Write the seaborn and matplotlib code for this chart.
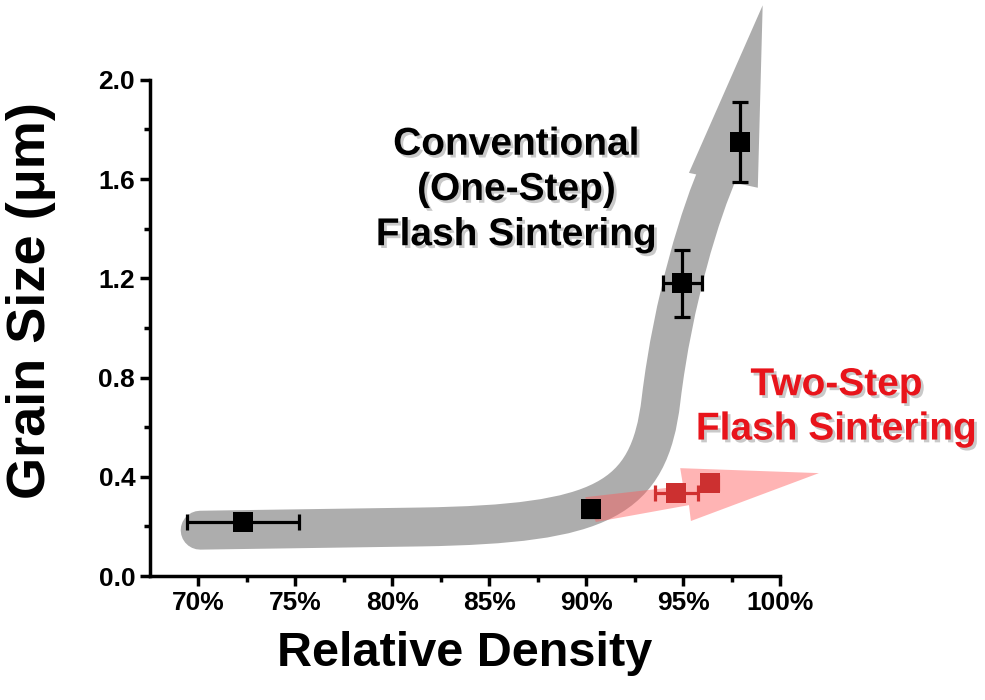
import numpy as np
import pandas as pd
import seaborn as sns
import matplotlib.pyplot as plt
import matplotlib.patheffects as pe
from matplotlib.patches import Polygon, PathPatch
from matplotlib.path import Path

# Conventional (one-step) flash sintering
conv_density = [72.3, 90.25, 94.95, 97.95]
conv_grain = [0.218, 0.27, 1.18, 1.75]
conv_xerr = [2.9, 0.3, 1.0, 0.2]
conv_yerr = [0.02, 0.03, 0.135, 0.16]

# Two-step flash sintering
two_density = [94.65, 96.4]
two_grain = [0.335, 0.375]
two_xerr = [1.1, 0.4]
two_yerr = [0.03, 0.02]

x_ticks = [70, 75, 80, 85, 90, 95, 100]
y_ticks = [0.0, 0.4, 0.8, 1.2, 1.6, 2.0]

sns.set_style("ticks")
plt.rcParams['font.family'] = ['Liberation Sans', 'DejaVu Sans']
plt.rcParams['font.weight'] = 'bold'

df = pd.DataFrame({
    "density": conv_density + two_density,
    "grain": conv_grain + two_grain,
    "method": ["conv"] * len(conv_density) + ["two"] * len(two_density),
})

fig = plt.figure(figsize=(9.85, 7.0), dpi=100)
ax = fig.add_axes([0.152, 0.177, 0.640, 0.709])

# big gray guide arrow (decoration only)
band = Path(
    [(70.1, 0.185), (81.5, 0.198),
     (90.8, 0.21), (93.25, 0.306), (93.86, 0.71),
     (94.48, 1.113), (95.93, 1.476), (96.86, 1.637)],
    [Path.MOVETO, Path.LINETO,
     Path.CURVE4, Path.CURVE4, Path.CURVE4,
     Path.CURVE4, Path.CURVE4, Path.CURVE4])
ax.add_patch(PathPatch(band, fill=False, ec="#adadad", lw=28, capstyle="round",
                       joinstyle="round", zorder=1, clip_on=False))
ax.add_patch(Polygon([[95.3, 1.625], [99.1, 2.30], [98.85, 1.565]],
                     closed=True, fc="#adadad", ec="none", zorder=1, clip_on=False))

# red guide arrow (decoration only)
ax.add_patch(Polygon([[89.95, 0.318], [95.0, 0.363], [94.85, 0.435], [102.0, 0.415],
                      [95.4, 0.222], [95.3, 0.286], [90.5, 0.218]],
                     closed=True, fc="#ff5a5a", alpha=0.45, ec="none", zorder=2,
                     clip_on=False))

ax.errorbar(conv_density, conv_grain, xerr=conv_xerr, yerr=conv_yerr, fmt="none",
            ecolor="black", elinewidth=2.3, capsize=6, capthick=2.3, zorder=3)
ax.errorbar(two_density, two_grain, xerr=two_xerr, yerr=two_yerr, fmt="none",
            ecolor="#d03030", elinewidth=2.3, capsize=6, capthick=2.3, zorder=3)
sns.scatterplot(data=df, x="density", y="grain", hue="method", marker="s",
                palette={"conv": "black", "two": "#cc3030"}, s=210, linewidth=0,
                legend=False, ax=ax, zorder=4)

ax.set_xlim(67.5, 100)
ax.set_ylim(0, 2.0)
ax.set_xticks(x_ticks)
ax.set_xticklabels([f"{v}%" for v in x_ticks])
ax.set_yticks(y_ticks)
ax.set_yticklabels([f"{v:.1f}" for v in y_ticks])
ax.set_xticks(np.arange(72.5, 100, 5), minor=True)
ax.set_yticks(np.arange(0.2, 2.0, 0.4), minor=True)
ax.tick_params(which="major", length=7, width=2.5, labelsize=19, direction="out",
               colors="black")
ax.tick_params(which="minor", length=4, width=2.5, direction="out", colors="black")
for lab in ax.get_xticklabels() + ax.get_yticklabels():
    lab.set_fontweight("bold")
sns.despine(ax=ax)
for s in ["left", "bottom"]:
    ax.spines[s].set_linewidth(2.5)
    ax.spines[s].set_color("black")

ax.set_xlabel("Relative Density", fontsize=35, fontweight="bold", labelpad=12,
              color="black")
ax.set_ylabel("Grain Size (μm)", fontsize=39, fontweight="bold", color="black")
ax.yaxis.set_label_coords(-0.148, 0.556)

shadow = [pe.SimplePatchShadow(offset=(2, -2), shadow_rgbFace="#888888", alpha=0.45),
          pe.Normal()]
ax.text(86.4, 1.556, "Conventional\n(One-Step)\nFlash Sintering", ha="center",
        va="center", fontsize=28, fontweight="bold", color="black", linespacing=1.33,
        path_effects=shadow)
ax.text(102.9, 0.68, "Two-Step\nFlash Sintering", ha="center", va="center",
        fontsize=28, fontweight="bold", color="#e8141b", linespacing=1.3,
        clip_on=False, path_effects=shadow)

fig.savefig("out.png", dpi=100)
